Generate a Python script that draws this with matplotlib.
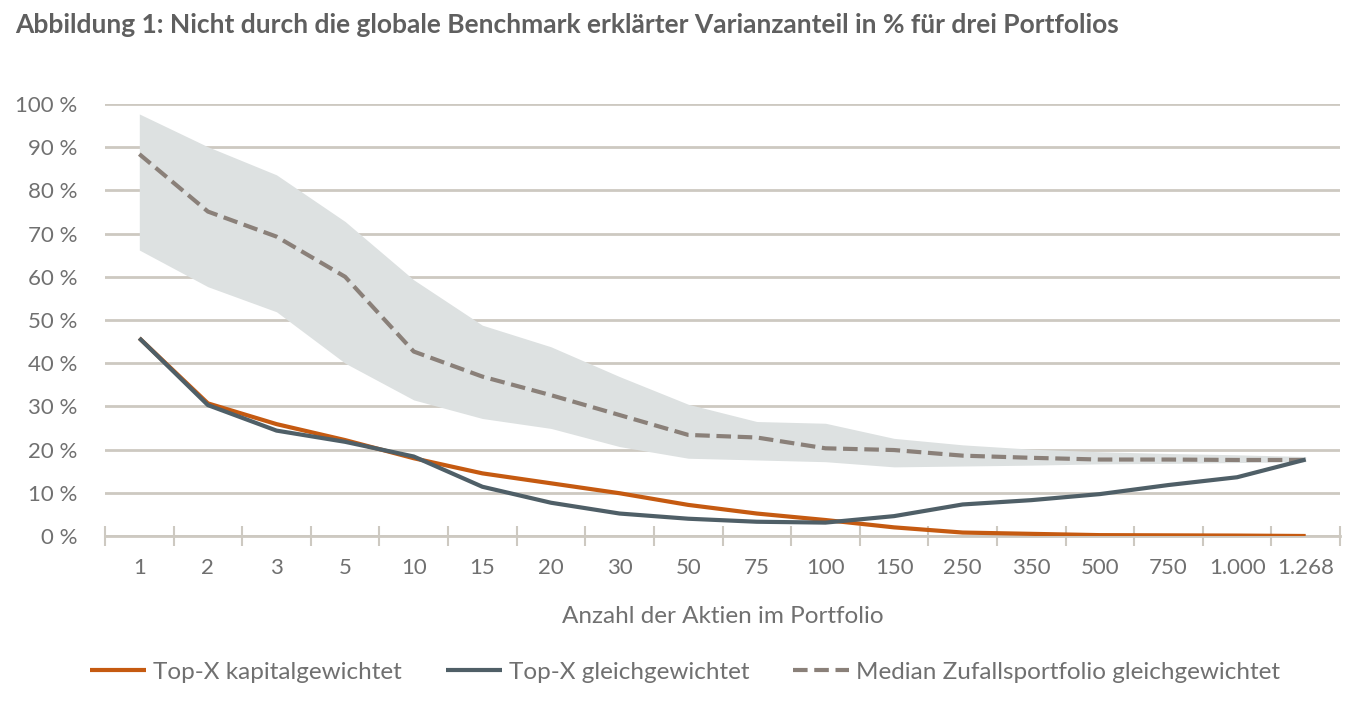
import numpy as np
import matplotlib
matplotlib.use("Agg")
import matplotlib.pyplot as plt

# Anzahl der Aktien (Kategorien der x-Achse)
categories = ["1", "2", "3", "5", "10", "15", "20", "30", "50", "75", "100",
              "150", "250", "350", "500", "750", "1.000", "1.268"]

# Werte in %
top_cap = [45.8, 30.7, 25.9, 22.2, 18.0, 14.5, 12.2, 9.9, 7.2, 5.2, 3.7,
           2.0, 0.8, 0.5, 0.2, 0.15, 0.1, 0.0]
top_equal = [45.8, 30.3, 24.4, 21.8, 18.4, 11.4, 7.7, 5.2, 4.0, 3.3, 3.1,
             4.6, 7.3, 8.3, 9.7, 11.8, 13.6, 17.7]
median_random = [88.4, 75.1, 69.3, 60.0, 42.7, 36.9, 32.6, 28.0, 23.4, 22.8, 20.3,
                 19.9, 18.6, 18.1, 17.7, 17.7, 17.6, 17.6]
band_upper = [97.7, 90.1, 83.6, 72.8, 59.3, 48.8, 43.8, 36.9, 30.5, 26.5, 26.1,
              22.6, 21.1, 20.1, 19.5, 19.1, 18.8, 18.4]
band_lower = [66.2, 57.7, 51.9, 40.0, 31.5, 27.2, 24.9, 20.7, 18.0, 17.6, 17.2,
              16.0, 16.2, 16.4, 16.7, 16.8, 17.0, 17.2]

yticks = list(range(0, 101, 10))
title = "Abbildung 1: Nicht durch die globale Benchmark erklärter Varianzanteil in % für drei Portfolios"

plt.rcParams['font.family'] = ['Lato', 'DejaVu Sans']

text_col = "#707070"
grid_col = "#cdc9c1"

fig = plt.figure(figsize=(13.57, 7.06), dpi=100)
ax = fig.add_axes([105 / 1357, 170 / 706, 1235 / 1357, 432 / 706])

x = np.arange(len(categories))

ax.fill_between(x, band_lower, band_upper, color="#dde1e1", linewidth=0, zorder=1)
ax.plot(x, top_cap, color="#c55a11", lw=3, zorder=3, solid_capstyle="butt",
        label="Top-X kapitalgewichtet")
ax.plot(x, top_equal, color="#4f5f67", lw=3, zorder=4, solid_capstyle="butt",
        label="Top-X gleichgewichtet")
ax.plot(x, median_random, color="#8a8079", lw=3, ls=(0, (3.5, 1.6)), zorder=2,
        label="Median Zufallsportfolio gleichgewichtet")

ax.set_xlim(-0.5, len(categories) - 0.5)
ax.set_ylim(0, 100)
ax.set_yticks(yticks)
ax.set_yticklabels([f"{v} %" for v in yticks])
ax.set_xticks(x)
ax.set_xticklabels(categories)
ax.set_xticks(np.arange(-0.5, len(categories), 1), minor=True)

ax.yaxis.grid(True, color=grid_col, lw=2)
ax.set_axisbelow(True)
for s in ["top", "right", "left"]:
    ax.spines[s].set_visible(False)
ax.spines["bottom"].set_color(grid_col)
ax.spines["bottom"].set_linewidth(2)

ax.tick_params(axis="y", length=0, pad=20, labelsize=16, labelcolor=text_col)
ax.tick_params(axis="x", which="major", length=0, pad=16, labelsize=16, labelcolor=text_col)
ax.tick_params(axis="x", which="minor", direction="inout", length=15, width=1.5, color=grid_col)

ax.set_xlabel("Anzahl der Aktien im Portfolio", fontsize=17.5, color=text_col, labelpad=20)

fig.text(15 / 1357, 1 - 25 / 706, title, fontsize=19, fontweight="bold",
         color="#5f5f5f", va="center", ha="left")

fig.legend(loc="center", bbox_to_anchor=(0.505, 1 - 672 / 706), ncol=3, frameon=False,
           fontsize=17.5, handlelength=2.3, columnspacing=1.8, handletextpad=0.3,
           labelcolor=text_col)

fig.savefig("out.png", dpi=100)
